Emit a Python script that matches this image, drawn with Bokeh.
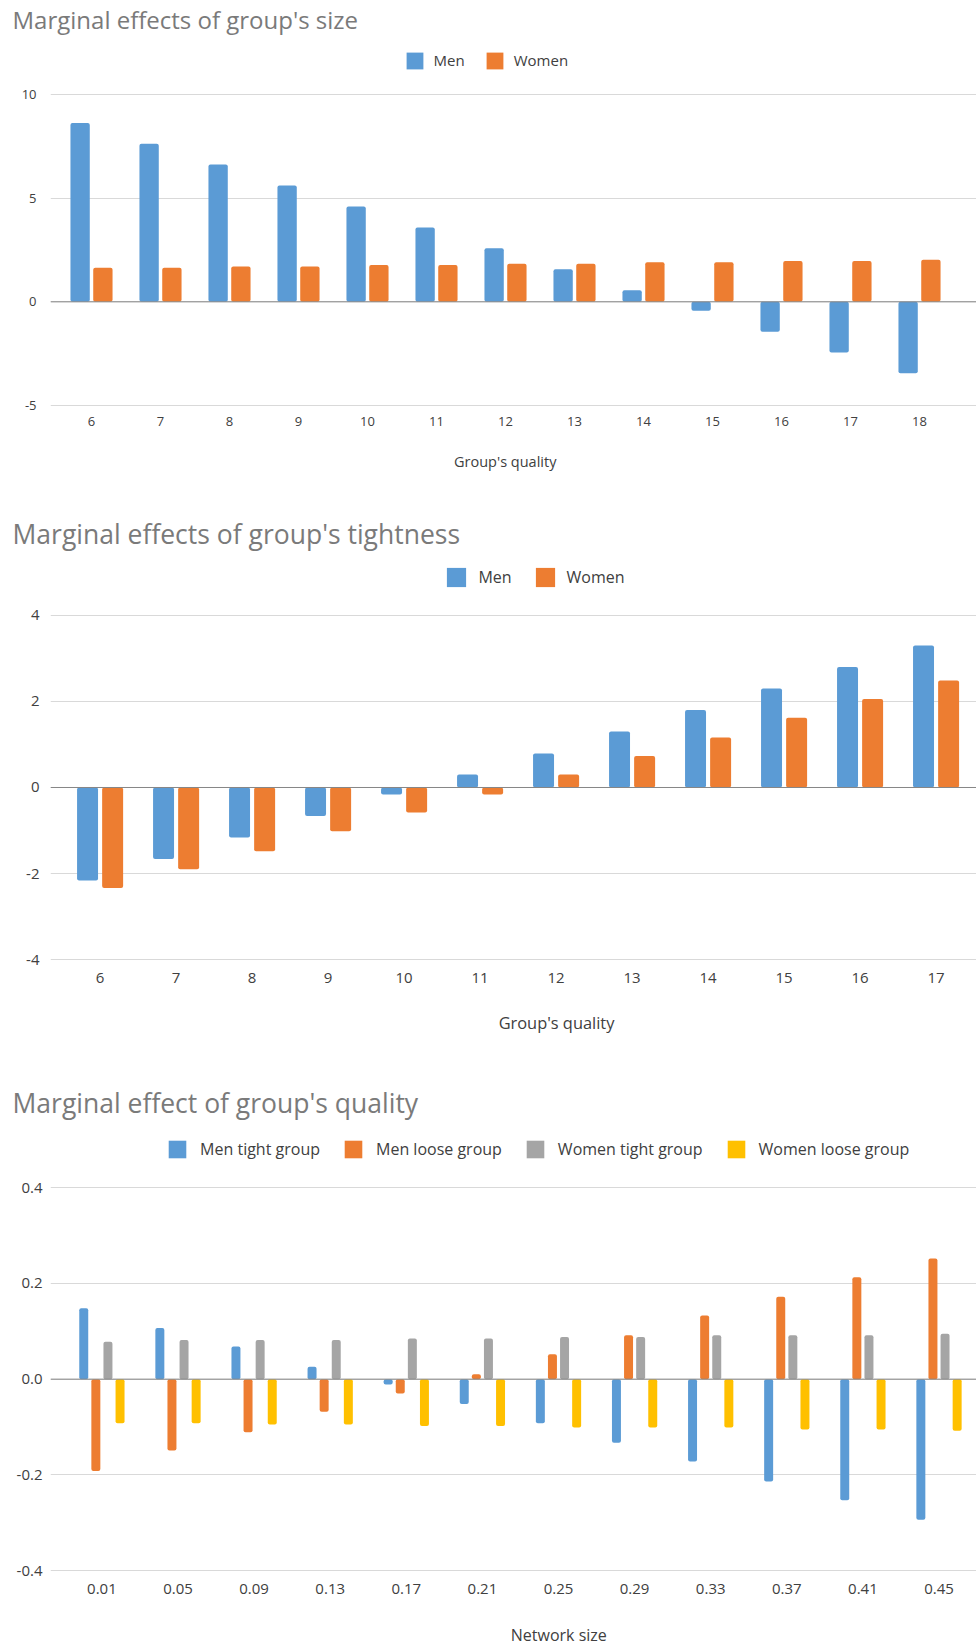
from bokeh.plotting import figure
from bokeh.models import (Range1d, FixedTicker, Span, Legend, LegendItem, Title, Label,
                          ColumnDataSource)
from bokeh.layouts import column
from bokeh.transform import dodge
from bokeh.embed import file_html
from bokeh.resources import INLINE

# ---------------- data ----------------
size_quality = ["6", "7", "8", "9", "10", "11", "12", "13", "14", "15", "16", "17", "18"]
size_men = [8.62, 7.63, 6.62, 5.61, 4.60, 3.59, 2.58, 1.57, 0.56, -0.43, -1.44, -2.44, -3.45]
size_women = [1.65, 1.65, 1.71, 1.71, 1.78, 1.78, 1.84, 1.84, 1.91, 1.91, 1.97, 1.97, 2.03]

tight_quality = ["6", "7", "8", "9", "10", "11", "12", "13", "14", "15", "16", "17"]
tight_men = [-2.16, -1.66, -1.16, -0.66, -0.16, 0.30, 0.79, 1.30, 1.80, 2.30, 2.80, 3.30]
tight_women = [-2.34, -1.90, -1.48, -1.02, -0.58, -0.16, 0.30, 0.73, 1.16, 1.62, 2.06, 2.49]

network_size = ["0.01", "0.05", "0.09", "0.13", "0.17", "0.21", "0.25", "0.29",
                "0.33", "0.37", "0.41", "0.45"]
q_men_tight = [0.148, 0.107, 0.068, 0.026, -0.011, -0.052, -0.092, -0.133, -0.172, -0.214, -0.253, -0.294]
q_men_loose = [-0.192, -0.149, -0.111, -0.068, -0.030, 0.010, 0.052, 0.092, 0.133, 0.172, 0.213, 0.252]
q_women_tight = [0.078, 0.082, 0.082, 0.082, 0.085, 0.085, 0.088, 0.088, 0.092, 0.092, 0.092, 0.095]
q_women_loose = [-0.092, -0.092, -0.095, -0.095, -0.098, -0.098, -0.101, -0.101, -0.101, -0.105, -0.105, -0.108]

# ---------------- style ----------------
FONT = "Open Sans"
BLUE, ORANGE, GRAY, YELLOW = "#5B9BD5", "#ED7D31", "#A5A5A5", "#FFC000"
GRID, ZERO, TXT, TITLE = "#D9D9D9", "#868686", "#404040", "#7A7A7A"
LEFT = 50  # frame left edge (frames of a column are aligned)


def panel(cats, series, names, colors, offsets, bar_w, *, height, top,
          x_lo, x_hi, y_lo, y_hi, yticks, ylabels,
          title, title_size, title_standoff,
          legend_xy, legend_font, glyph, standoff, spacing,
          tick_font, x_standoff, y_standoff,
          xlabel, xlabel_size, xlabel_xy):
    p = figure(width=976, height=height, output_backend="svg", toolbar_location=None,
               title=None, x_range=Range1d(x_lo, x_hi), y_range=Range1d(y_lo, y_hi),
               min_border_top=top, min_border_bottom=0,
               min_border_left=LEFT, min_border_right=0)
    p.outline_line_color = None
    p.background_fill_color = "white"
    p.border_fill_color = "white"

    data = {"idx": list(range(len(cats)))}
    for i, s in enumerate(series):
        data[f"s{i}"] = s
    src = ColumnDataSource(data)

    items = []
    for i, (name, col, off) in enumerate(zip(names, colors, offsets)):
        r = p.vbar(x=dodge("idx", off, range=p.x_range), top=f"s{i}", bottom=0,
                   width=bar_w, source=src, fill_color=col, line_color=None,
                   border_radius=2)
        items.append(LegendItem(label=name, renderers=[r]))

    p.add_layout(Span(location=0, dimension="width", line_color=ZERO, line_width=1))

    # axes
    p.xaxis.ticker = FixedTicker(ticks=list(range(len(cats))))
    p.xaxis.major_label_overrides = {i: c for i, c in enumerate(cats)}
    p.xaxis.fixed_location = yticks[0]
    p.yaxis.ticker = FixedTicker(ticks=yticks)
    p.yaxis.major_label_overrides = {t: l for t, l in zip(yticks, ylabels)}
    for ax in (p.xaxis[0], p.yaxis[0]):
        ax.axis_line_color = None
        ax.major_tick_line_color = None
        ax.minor_tick_line_color = None
        ax.major_tick_in = 0
        ax.major_tick_out = 0
        ax.major_label_text_font = FONT
        ax.major_label_text_font_size = tick_font
        ax.major_label_text_color = TXT
    p.xaxis.major_label_standoff = x_standoff
    p.yaxis.major_label_standoff = y_standoff

    p.xgrid.visible = False
    p.ygrid.ticker = FixedTicker(ticks=yticks)
    p.ygrid.grid_line_color = GRID
    p.ygrid.grid_line_width = 1

    legend = Legend(items=items, location=legend_xy, orientation="horizontal",
                    glyph_width=glyph, glyph_height=glyph, label_height=glyph,
                    label_standoff=standoff, spacing=spacing, padding=0, margin=0,
                    border_line_color=None, background_fill_alpha=0,
                    label_text_font=FONT, label_text_font_size=legend_font,
                    label_text_color=TXT)
    p.add_layout(legend)

    p.add_layout(Title(text=title, align="left", offset=-38,
                       standoff=title_standoff, text_font=FONT,
                       text_font_size=title_size, text_font_style="normal",
                       text_color=TITLE), "above")
    p.add_layout(Label(x=xlabel_xy[0], y=xlabel_xy[1], x_units="screen", y_units="screen",
                       text=xlabel, text_font=FONT, text_font_size=xlabel_size,
                       text_color=TXT, text_align="center", text_baseline="alphabetic"))
    return p


p1 = panel(size_quality, [size_men, size_women], ["Men", "Women"], [BLUE, ORANGE],
           [-0.165, 0.165], 0.28,
           height=500, top=35,
           x_lo=-0.5942, x_hi=12.826, y_lo=-9.582, y_hi=12.846,
           yticks=[-5, 0, 5, 10], ylabels=["-5", "0", "5", "10"],
           title="Marginal effects of group's size", title_size="24px", title_standoff=0,
           legend_xy=(353.6, 429.5), legend_font="15px",
           glyph=21, standoff=9, spacing=19, tick_font="13px",
           x_standoff=11, y_standoff=14,
           xlabel="Group's quality", xlabel_size="14.5px", xlabel_xy=(454.7, 39))

p2 = panel(tight_quality, [tight_men, tight_women], ["Men", "Women"], [BLUE, ORANGE],
           [-0.165, 0.165], 0.276,
           height=562, top=55,
           x_lo=-0.6526, x_hi=11.532, y_lo=-6.395, y_hi=5.395,
           yticks=[-4, -2, 0, 2, 4], ylabels=["-4", "-2", "0", "2", "4"],
           title="Marginal effects of group's tightness", title_size="26.5px",
           title_standoff=8,
           legend_xy=(394.4, 473), legend_font="16px",
           glyph=24, standoff=10, spacing=21, tick_font="15px",
           x_standoff=13, y_standoff=11,
           xlabel="Group's quality", xlabel_size="16.4px", xlabel_xy=(506, 40))

p3 = panel(network_size, [q_men_tight, q_men_loose, q_women_tight, q_women_loose],
           ["Men tight group", "Men loose group", "Women tight group", "Women loose group"],
           [BLUE, ORANGE, GRAY, YELLOW], [-0.2385, -0.0795, 0.0795, 0.2385], 0.118,
           height=584, top=66,
           x_lo=-0.6754, x_hi=11.4928, y_lo=-0.55886, y_hi=0.52396,
           yticks=[-0.4, -0.2, 0.0, 0.2, 0.4], ylabels=["-0.4", "-0.2", "0.0", "0.2", "0.4"],
           title="Marginal effect of group's quality", title_size="26.5px",
           title_standoff=16,
           legend_xy=(116.1, 486), legend_font="16px",
           glyph=22, standoff=12, spacing=22, tick_font="15px",
           x_standoff=13, y_standoff=8,
           xlabel="Network size", xlabel_size="16px", xlabel_xy=(508.3, 12))

layout = column(p1, p2, p3, spacing=0)
open("out.html", "w").write(file_html(layout, INLINE))
